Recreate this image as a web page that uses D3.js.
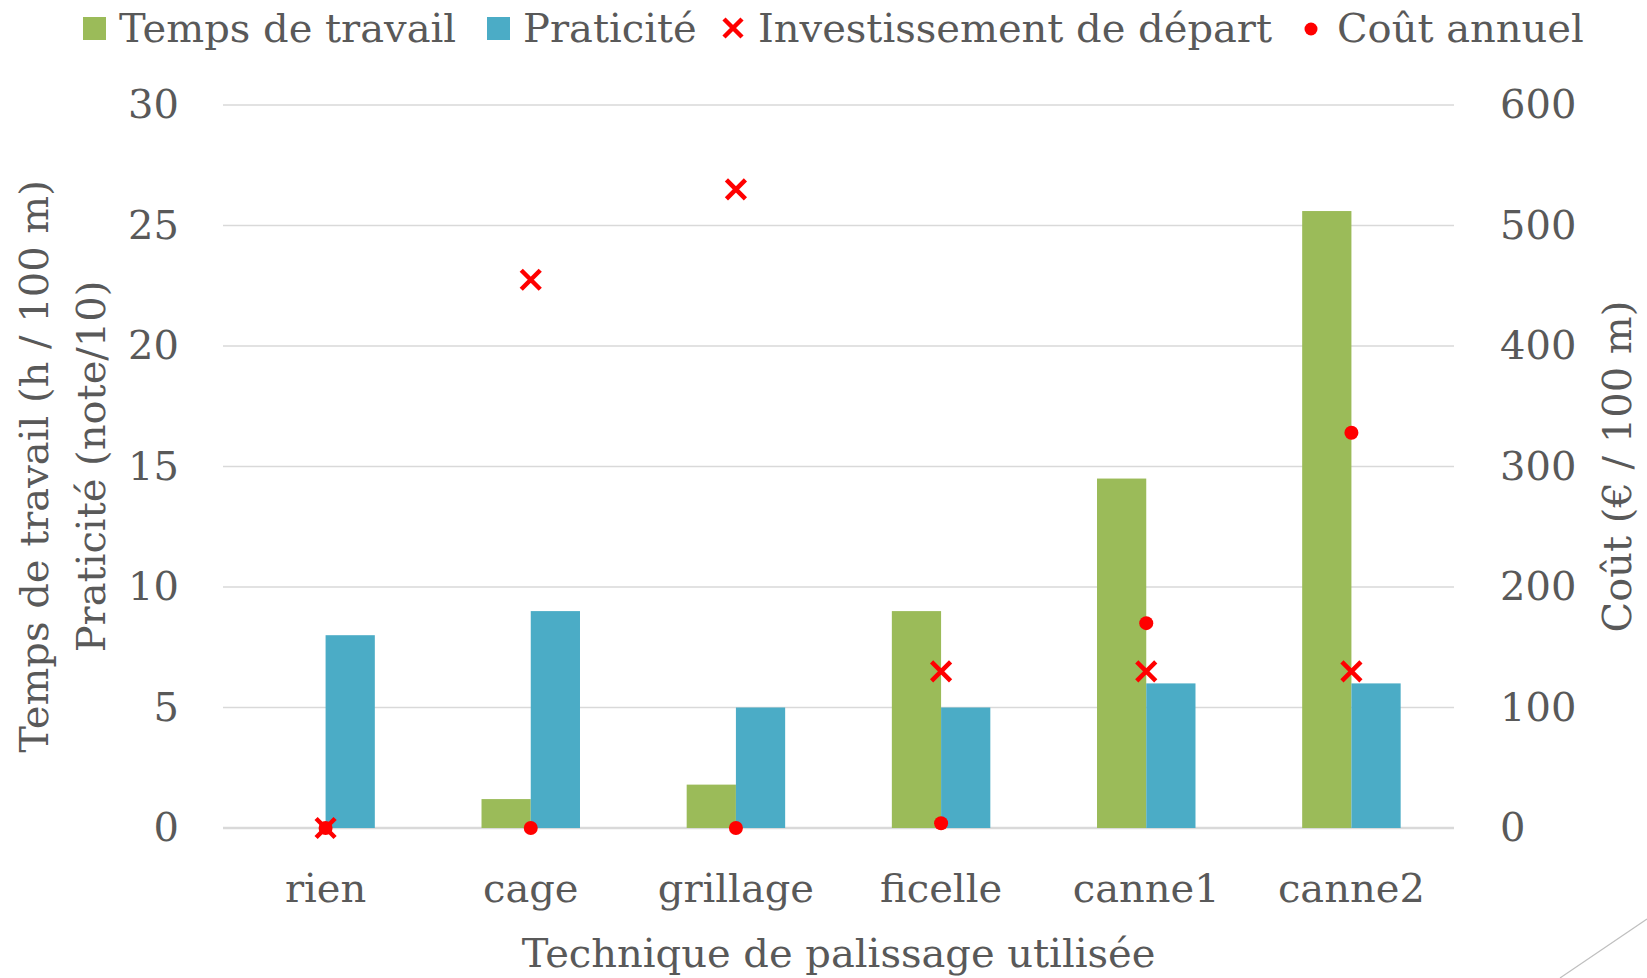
<!DOCTYPE html>
<html>
<head>
<meta charset="utf-8">
<script src="https://cdn.jsdelivr.net/npm/d3@7"></script>
<style>
  body { margin: 0; background: #fff; }
  text { font-family: "DejaVu Serif", serif; fill: #595959; }
</style>
</head>
<body>
<div class="chart"></div>
<script>
const categories = ["rien", "cage", "grillage", "ficelle", "canne1", "canne2"];
const tempsTravail = [0, 1.2, 1.8, 9, 14.5, 25.6];
const praticite = [8, 9, 5, 5, 6, 6];
const investissement = [0, 455, 530, 130, 130, 130];
const coutAnnuel = [0, 0, 0, 4, 170, 328];
const leftTicks = [0, 5, 10, 15, 20, 25, 30];
const rightTicks = [0, 100, 200, 300, 400, 500, 600];

const W = 1647, H = 978;
const margin = {top: 105, right: 193, bottom: 150, left: 223};
const width = W - margin.left - margin.right;
const height = H - margin.top - margin.bottom;

const green = "#9BBB59", blue = "#4BACC6", red = "#FF0000";

const svg = d3.select(".chart").append("svg")
  .attr("width", W)
  .attr("height", H);

const g = svg.append("g")
  .attr("transform", `translate(${margin.left},${margin.top})`);

const x0 = d3.scaleBand().domain(categories).range([0, width])
  .paddingInner(0.52).paddingOuter(0.26);
const x1 = d3.scaleBand().domain(["t", "p"]).range([0, x0.bandwidth()]);
const yL = d3.scaleLinear().domain([0, 30]).range([height, 0]);
const yR = d3.scaleLinear().domain([0, 600]).range([height, 0]);
const cx = c => x0(c) + x0.bandwidth() / 2;

// gridlines
g.append("g").selectAll("line")
  .data(leftTicks)
  .enter().append("line")
  .attr("x1", 0).attr("x2", width)
  .attr("y1", d => yL(d)).attr("y2", d => yL(d))
  .attr("stroke", "#d9d9d9")
  .attr("stroke-width", d => d === 0 ? 2.5 : 1.5);

// left axis
const yAxisL = d3.axisLeft(yL).tickValues(leftTicks).tickSize(0).tickPadding(44);
g.append("g").call(yAxisL)
  .call(a => a.select(".domain").remove())
  .selectAll("text").attr("font-size", "40px").attr("fill", "#595959")
  .style("font-family", "DejaVu Serif");

// right axis
const yAxisR = d3.axisRight(yR).tickValues(rightTicks).tickSize(0).tickPadding(46);
g.append("g").attr("transform", `translate(${width},0)`).call(yAxisR)
  .call(a => a.select(".domain").remove())
  .selectAll("text").attr("font-size", "40px").attr("fill", "#595959")
  .style("font-family", "DejaVu Serif");

// bottom axis labels
const xAxis = d3.axisBottom(x0).tickSize(0).tickPadding(46);
g.append("g").attr("transform", `translate(0,${height})`).call(xAxis)
  .call(a => a.select(".domain").remove())
  .selectAll("text").attr("font-size", "40px").attr("fill", "#595959")
  .style("font-family", "DejaVu Serif");

// bars
g.selectAll(".temps")
  .data(categories)
  .enter().append("rect")
  .attr("class", "temps")
  .attr("x", d => x0(d) + x1("t"))
  .attr("y", (d, i) => yL(tempsTravail[i]))
  .attr("width", x1.bandwidth())
  .attr("height", (d, i) => height - yL(tempsTravail[i]))
  .attr("fill", green);

g.selectAll(".prat")
  .data(categories)
  .enter().append("rect")
  .attr("class", "prat")
  .attr("x", d => x0(d) + x1("p"))
  .attr("y", (d, i) => yL(praticite[i]))
  .attr("width", x1.bandwidth())
  .attr("height", (d, i) => height - yL(praticite[i]))
  .attr("fill", blue);

// cout annuel dots
g.selectAll(".cout")
  .data(categories)
  .enter().append("circle")
  .attr("class", "cout")
  .attr("cx", d => cx(d))
  .attr("cy", (d, i) => yR(coutAnnuel[i]))
  .attr("r", 7)
  .attr("fill", red);

// investissement crosses
const cross = (sel, s) => sel.attr("d", `M${-s},${-s}L${s},${s}M${-s},${s}L${s},${-s}`)
  .attr("stroke", red).attr("stroke-width", 4.5).attr("fill", "none");

g.selectAll(".inv")
  .data(categories)
  .enter().append("path")
  .attr("class", "inv")
  .attr("transform", (d, i) => `translate(${cx(d)},${yR(investissement[i])})`)
  .call(cross, 9.5);

// axis titles
svg.append("text")
  .attr("x", margin.left + width / 2).attr("y", 967)
  .attr("text-anchor", "middle").attr("font-size", "40px")
  .text("Technique de palissage utilisée");

svg.append("text")
  .attr("transform", `translate(48,${margin.top + height / 2}) rotate(-90)`)
  .attr("text-anchor", "middle").attr("font-size", "40px")
  .text("Temps de travail (h / 100 m)");

svg.append("text")
  .attr("transform", `translate(105,${margin.top + height / 2}) rotate(-90)`)
  .attr("text-anchor", "middle").attr("font-size", "40px")
  .text("Praticité (note/10)");

svg.append("text")
  .attr("transform", `translate(1631,${margin.top + height / 2}) rotate(-90)`)
  .attr("text-anchor", "middle").attr("font-size", "40px")
  .text("Coût (€ / 100 m)");

// legend
const legend = [
  {label: "Temps de travail", type: "rect", color: green, x: 83, tx: 119},
  {label: "Praticité", type: "rect", color: blue, x: 487, tx: 523},
  {label: "Investissement de départ", type: "cross", color: red, x: 722, tx: 758},
  {label: "Coût annuel", type: "dot", color: red, x: 1304, tx: 1337}
];
const lg = svg.append("g");
legend.forEach(d => {
  if (d.type === "rect") {
    lg.append("rect").attr("x", d.x).attr("y", 17).attr("width", 23).attr("height", 23).attr("fill", d.color);
  } else if (d.type === "cross") {
    lg.append("path").attr("transform", `translate(${d.x + 11},28)`).call(cross, 9);
  } else {
    lg.append("circle").attr("cx", d.x + 7).attr("cy", 29).attr("r", 6.5).attr("fill", d.color);
  }
  lg.append("text").attr("x", d.tx).attr("y", 42).attr("font-size", "40px").text(d.label);
});

// slide decoration
svg.append("line")
  .attr("x1", 1560).attr("y1", 978).attr("x2", 1647).attr("y2", 919)
  .attr("stroke", "#bfbfbf").attr("stroke-width", 1.2);
</script>
</body>
</html>
